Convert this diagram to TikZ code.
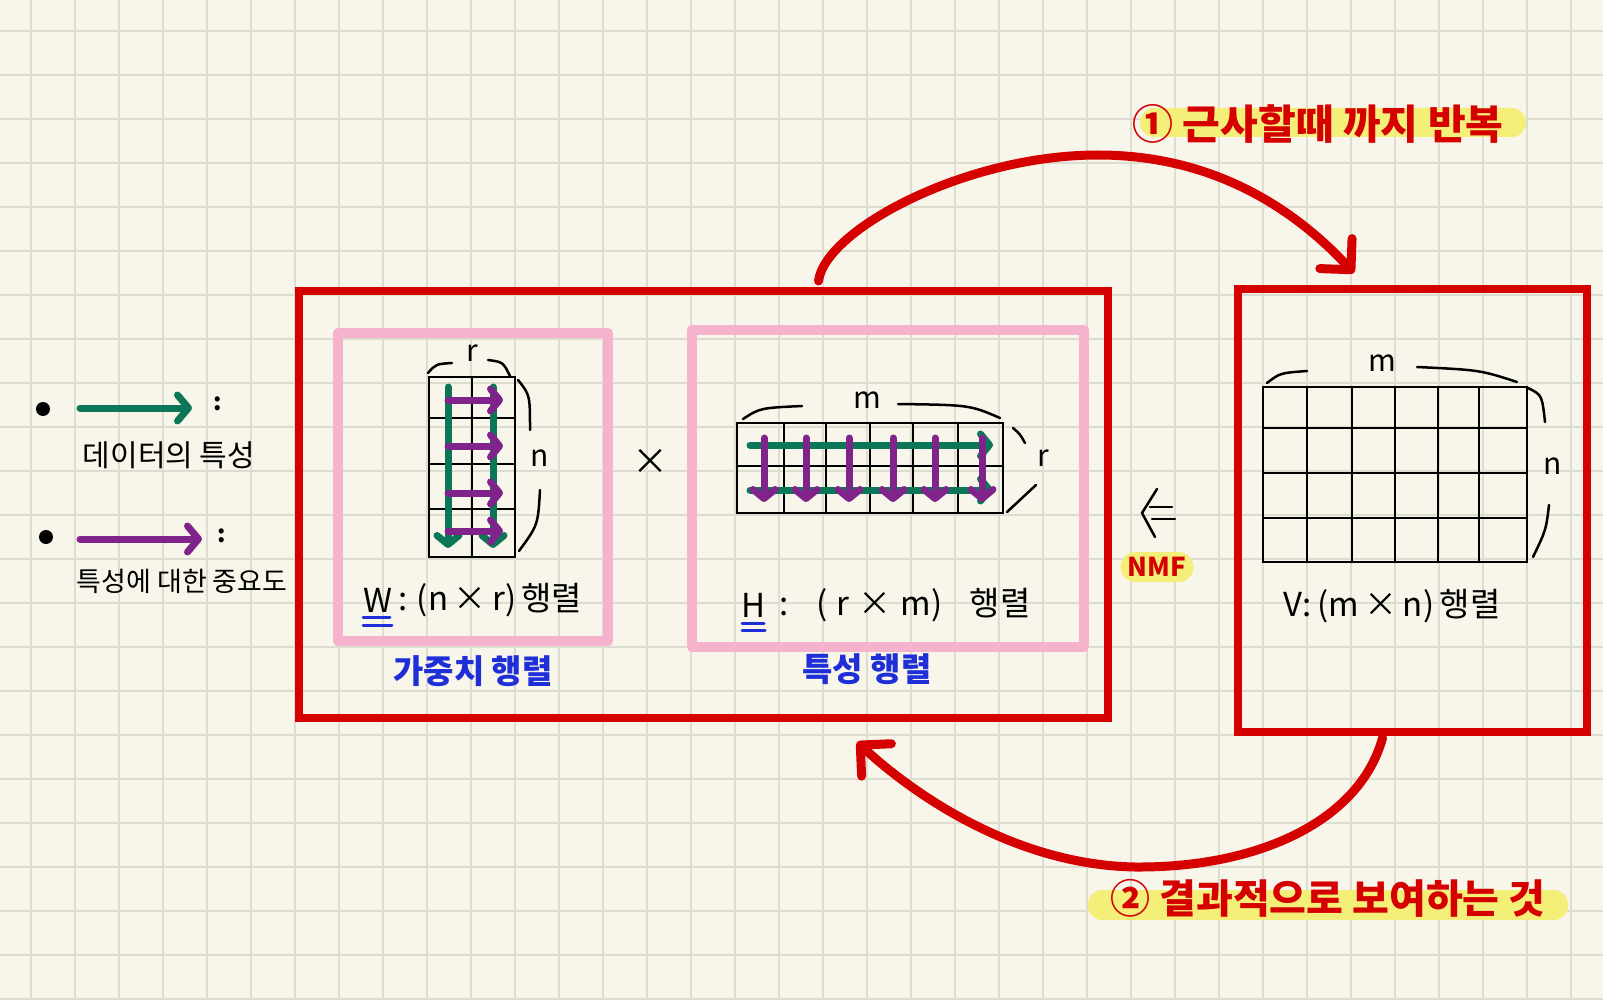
\documentclass[tikz,border=0pt]{standalone}
\usepackage{fontspec}
\setmainfont{Noto Sans CJK KR}
\usetikzlibrary{arrows.meta,positioning}
\definecolor{paper}{HTML}{F8F6EB}
\definecolor{gridc}{HTML}{DDDCD1}
\definecolor{noteRed}{HTML}{D50000}
\definecolor{notePink}{HTML}{F5B2CC}
\definecolor{noteGreen}{HTML}{0B7758}
\definecolor{notePurple}{HTML}{80238A}
\definecolor{noteBlue}{HTML}{1F2FD8}
\definecolor{hilite}{HTML}{F4EF78}
\begin{document}
\begin{tikzpicture}[x=1pt,y=-1pt,
  redbox/.style={draw=noteRed, line width=8pt, inner sep=0pt},
  pinkbox/.style={draw=notePink, line width=10pt, line join=round, inner sep=0pt},
  mat/.style={line width=2.5pt, line cap=round},
  brc/.style={line width=2.5pt, line cap=round},
  grnarrow/.style={draw=noteGreen, line width=7pt, line cap=round, -{Straight Barb[length=9pt,width=22pt,round]}},
  prparrow/.style={draw=notePurple, line width=7pt, line cap=round, -{Straight Barb[length=9pt,width=22pt,round]}},
  loopline/.style={draw=noteRed, line width=9pt, line cap=round, -{Straight Barb[length=22pt,width=44pt,round]}},
  lab/.style={font=\fontsize{33}{36}\selectfont, inner sep=0pt},
  small/.style={font=\fontsize{30}{34}\selectfont, inner sep=0pt},
  bluelab/.style={text=noteBlue, font=\fontsize{33}{36}\selectfont\bfseries},
  redlab/.style={text=noteRed, font=\fontsize{41}{44}\selectfont\bfseries}]
\useasboundingbox (0,0) rectangle (1603,1000);
% paper
\fill[paper] (0,0) rectangle (1603,1000);
\foreach \gx in {31,75,...,1603} \draw[gridc, line width=1.4pt] (\gx,0) -- (\gx,1000);
\foreach \gy in {31,75,...,1000} \draw[gridc, line width=1.4pt] (0,\gy) -- (1603,\gy);

% legend
\fill (43,409) circle (7);
\fill (46,537) circle (7);
\coordinate (g0) at (80,408);
\coordinate (g1) at (192,408);
\coordinate (p0) at (80,539);
\coordinate (p1) at (202,539);
\draw[grnarrow, -{Straight Barb[length=11pt,width=26pt,round]}] (g0) -- (g1);
\draw[prparrow, -{Straight Barb[length=11pt,width=26pt,round]}] (p0) -- (p1);
\node[font=\fontsize{24}{26}\selectfont\bfseries] (c1) at (218,404) {:};
\node[font=\fontsize{24}{26}\selectfont\bfseries] (c2) at (222,536) {:};
\node[font=\fontsize{30}{32}\selectfont] (leg1) at (169,455) {데이터의 특성};
\node[font=\fontsize{27}{30}\selectfont] (leg2) at (182,581) {특성에 대한 중요도};

% boxes
\node[redbox, minimum width=809pt, minimum height=427pt] (lhs) at (703.5,504.5) {};
\node[redbox, minimum width=349pt, minimum height=443pt] (rhs) at (1412.5,510.5) {};
\node[pinkbox, minimum width=270pt, minimum height=308pt] (wbox) at (473,487) {};
\node[pinkbox, minimum width=392pt, minimum height=317pt] (hbox) at (888,488.5) {};

% W matrix
\draw[mat] (429,377) rectangle (515,557);
\draw[mat] (472,377) -- (472,557);
\foreach \yy in {418,464,509} \draw[mat] (429,\yy) -- (515,\yy);
\foreach \xx in {448,493} \draw[grnarrow] (\xx,387) -- (\xx,548);
\foreach \yy in {400,446,493,531} \draw[prparrow] (448,\yy) -- (503,\yy);
\draw[brc] (428,373) .. controls (436,364) .. (452,363);
\draw[brc] (488,360) .. controls (503,362) .. (510,376);
\draw[brc] (518,380) .. controls (530,395) .. (530,430);
\draw[brc] (540,490) .. controls (538,525) .. (519,551);
\node[small] (wr) at (472,353) {r};
\node[small] (wn) at (540,458) {n};
\node[lab, anchor=west] (wsym) at (363,600) {W};
\node[lab, anchor=west, right=6pt of wsym] (wdim) {:\;(n\,×\,r)\,행렬};
\draw[noteBlue, line width=3pt, line cap=round] (363,617) -- (390,617);
\draw[noteBlue, line width=3pt, line cap=round] (363,625) -- (392,625);
\node[bluelab] (wname) at (473,671) {가중치 행렬};

\node[font=\fontsize{36}{40}\selectfont] (times) at (650,462) {×};

% H matrix
\draw[mat] (737,423) rectangle (1003,513);
\foreach \xx in {784,826,870,913,958} \draw[mat] (\xx,423) -- (\xx,513);
\draw[mat] (737,466) -- (1003,466);
\foreach \yy in {445,490} \draw[grnarrow] (750,\yy) -- (993,\yy);
\foreach \xx in {764,806,849,893,935,982} \draw[prparrow] (\xx,438) -- (\xx,502);
\draw[brc] (743,419) .. controls (760,408) .. (802,406);
\draw[brc] (898,404) .. controls (970,405) .. (1000,418);
\draw[brc] (1013,428) .. controls (1020,434) .. (1025,443);
\draw[brc] (1036,485) -- (1007,512);
\node[small] (hm) at (867,400) {m};
\node[small] (hr) at (1043,458) {r};
\node[lab, anchor=west] (hsym) at (741,605) {H};
\node[lab, anchor=west, right=14pt of hsym] (hdim) {:\;\;\;(\;r\;×\;m)\;\;\;행렬};
\draw[noteBlue, line width=3pt, line cap=round] (742,623) -- (764,623);
\draw[noteBlue, line width=3pt, line cap=round] (742,630) -- (765,630);
\node[bluelab] (hname) at (867,669) {특성 행렬};

% V matrix
\draw[mat] (1263,387) rectangle (1527,562);
\foreach \xx in {1307,1352,1395,1438,1479} \draw[mat] (\xx,387) -- (\xx,562);
\foreach \yy in {428,473,518} \draw[mat] (1263,\yy) -- (1527,\yy);
\draw[brc] (1267,383) .. controls (1280,373) .. (1307,371);
\draw[brc] (1417,367) .. controls (1480,370) .. (1517,382);
\draw[brc] (1528,388) .. controls (1542,395) .. (1545,422);
\draw[brc] (1549,505) .. controls (1546,530) .. (1533,557);
\node[small] (vm) at (1382,363) {m};
\node[small] (vn) at (1553,466) {n};
\node[lab] (vlab) at (1392,606) {V:\,(m\,×\,n)\,행렬};

% NMF
\draw[brc, line join=round] (1157,489) -- (1142,513) -- (1155,537);
\draw[brc] (1150,507) -- (1172,507);
\draw[brc] (1152,519) -- (1175,519);
\node[fill=hilite, rounded corners=15pt, minimum width=73pt, minimum height=30pt, inner sep=0pt,
  text=noteRed, font=\fontsize{26}{28}\selectfont\bfseries] (nmf) at (1157,567) {NMF};

% loops
\fill[hilite, rounded corners=14pt] (1140,108) rectangle (1526,137);
\node[redlab] (top) at (1318,124) {① 근사할때 까지 반복};
\draw[loopline] ([xshift=115pt,yshift=6pt]lhs.north) .. controls (825,230) and (965,155) .. (1098,155)
  .. controls (1220,155) and (1300,215) .. ([xshift=-58.5pt,yshift=12pt]rhs.north);
\fill[hilite, rounded corners=14pt] (1088,890) rectangle (1568,920);
\node[redlab, font=\fontsize{40}{44}\selectfont\bfseries] (bot) at (1328,898) {② 결과적으로 보여하는 것};
\draw[loopline] ([xshift=-30pt,yshift=-2pt]rhs.south) .. controls (1360,820) and (1260,868) .. (1135,867)
  .. controls (1020,865) and (920,800) .. ([xshift=153.5pt,yshift=-20pt]lhs.south);
\end{tikzpicture}
\end{document}
